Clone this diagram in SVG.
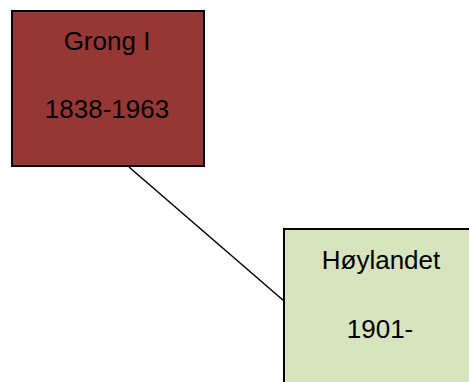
<svg xmlns="http://www.w3.org/2000/svg" width="469" height="382" viewBox="0 0 469 382">
  <style>
    .box { stroke: #000; stroke-width: 2; }
    .lbl { font-family: "Liberation Sans", Arial, sans-serif; font-size: 26px; fill: #000; text-anchor: middle; }
    .conn { stroke: #000; stroke-width: 1.5; fill: none; }
  </style>
  <rect width="469" height="382" fill="#fff"/>
  <g id="connectors">
    <line class="conn" x1="129" y1="167" x2="284" y2="301"/>
  </g>
  <g id="grong">
    <rect class="box" x="12" y="11" width="192" height="155" fill="#953735"/>
    <text class="lbl" x="107" y="50">Grong I</text>
    <text class="lbl" x="107" y="118">1838-1963</text>
  </g>
  <g id="hoylandet">
    <rect class="box" x="284" y="229" width="194" height="160" fill="#D7E4BD"/>
    <text class="lbl" x="381" y="269">Høylandet</text>
    <text class="lbl" x="380" y="338">1901-</text>
  </g>
</svg>
